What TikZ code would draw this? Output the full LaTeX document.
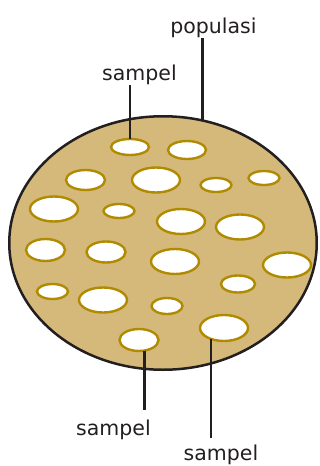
\documentclass[tikz,border=0pt]{standalone}
\usepackage{fontspec}
\setmainfont{DejaVu Sans}
\usetikzlibrary{shapes.geometric}
\definecolor{popfill}{RGB}{212,185,122}
\definecolor{sampleedge}{RGB}{176,138,0}
\definecolor{inkline}{RGB}{35,31,32}

\begin{document}
\begin{tikzpicture}[x=1pt,y=-1pt,
  sample/.style={ellipse,draw=sampleedge,fill=white,line width=2.4pt,inner sep=0pt,outer sep=0pt},
  wire/.style={draw=inkline,line width=2.7pt},
  lbltext/.style={inner sep=1pt,font=\fontsize{20.5}{23}\selectfont,text=inkline}]
  \useasboundingbox (0,0) rectangle (320,466);
  \node[ellipse,draw=inkline,fill=popfill,line width=2.5pt,inner sep=0pt,outer sep=0pt,
        minimum width=307.5pt,minimum height=253.5pt] (pop) at (163,243) {};
  \foreach \n/\x/\y/\w/\h in {1/130/147/38/16, 2/187/150/38/18, 3/85.5/180/39/20,
      4/156/180/48/25, 5/216/185/31/14, 6/264/178/31/14, 7/54/209/48/25,
      8/119/211/31/14, 9/181/221.5/48/25, 10/240/227/48/25, 11/45.5/250/39/22,
      12/106/252/39/21, 13/175/261.5/48/25, 14/287/265/48/25, 15/238/284/34/17,
      16/52.5/291.5/31/15, 17/103/300/48/25, 18/167/306/31/16, 19/139/340/39/22,
      20/224/328/48/26}
    \node[sample,minimum width=\w pt,minimum height=\h pt] (s\n) at (\x,\y) {};
  \node[lbltext,anchor=base] (popname) at (213.5,33) {populasi};
  \node[lbltext,anchor=base] (topname) at (139.5,80) {sampel};
  \node[lbltext,anchor=base] (leftname) at (113.5,435) {sampel};
  \node[lbltext,anchor=base] (rightname) at (221,460) {sampel};
  \coordinate (leftend) at ([yshift=8pt]leftname.north);
  \coordinate (rightend) at ([yshift=5pt]rightname.north);
  \draw[wire] (pop.72.5) -- (pop.72.5 |- popname.south);
  \draw[wire] (s1.north) -- (s1.north |- topname.south);
  \draw[wire] (s19.-62) -- (s19.-62 |- leftend);
  \draw[wire] (s20.-140) -- (s20.-140 |- rightend);
\end{tikzpicture}
\end{document}
